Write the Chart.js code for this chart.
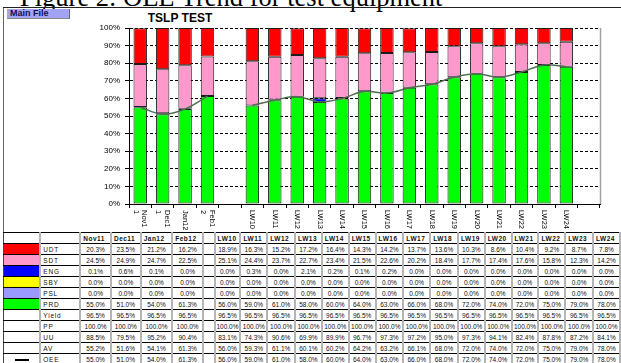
<!DOCTYPE html>
<html>
<head>
<meta charset="utf-8">
<script src="https://cdn.jsdelivr.net/npm/chart.js@4/dist/chart.umd.min.js"></script>
<style>
  body { margin: 0; width: 621px; height: 363px; overflow: hidden; background: #fff; position: relative; font-family: Arial, "Liberation Sans", sans-serif; }
  #caption { position: absolute; left: 20px; top: -16px; font: 26.5px/1 "Liberation Serif", "Times New Roman", serif; white-space: nowrap; color: #000; }
  #rule { position: absolute; left: 3px; top: 7px; width: 618px; height: 1px; background: #222; }
  #frame { position: absolute; left: 3px; top: 8px; width: 1px; height: 355px; background: #666; }
  #mainFile { position: absolute; left: 7px; top: 9px; width: 59px; height: 9px; padding-left: 3px; background: #a3a3f3; border-right: 1px solid #666; border-bottom: 1px solid #888; font: bold 9px/9px Arial, sans-serif; color: #101050; }
  #title { position: absolute; left: 130px; width: 100px; top: 11px; text-align: center; font: bold 12px Arial, sans-serif; }
  #chart { position: absolute; left: 0; top: 0; }
  #tbl { position: absolute; left: 3px; top: 232px; border-collapse: collapse; table-layout: fixed; }
  #tbl tr { height: 11px; }
  #tbl td { height: 9px; padding: 0; font-size: 6.5px; line-height: 9px; text-align: center; white-space: nowrap; overflow: hidden;
            border-top: 1px solid #000; border-bottom: 1px solid #000; border-left: 2px solid #b5b5b5; border-right: 2px solid #b5b5b5; color: #111; }
  #tbl td.key { border-left: 1px solid #444; border-right: 1px solid #000; }
  #tbl td.lab { text-align: left; padding-left: 2px; letter-spacing: 0.8px; border-right: 1px solid #000; }
  #tbl tr.head td { font-weight: bold; text-align: left; padding-left: 2px; letter-spacing: 0.5px; }
  .oeeKey { display: inline-block; width: 14px; height: 1.5px; background: #000; vertical-align: middle; }
</style>
</head>
<body>
<div id="caption">Figure 2: OEE Trend for test equipment</div>
<div id="rule"></div>
<div id="frame"></div>
<div id="mainFile">Main File</div>
<div id="title">TSLP TEST</div>
<canvas id="chart" width="621" height="232"></canvas>
<table id="tbl"></table>

<script>
// periodos (el hueco entre meses y semanas va como categoria vacia)
const categories = ["Nov11", "Dec11", "Jan12", "Feb12", "", "LW10", "LW11", "LW12", "LW13", "LW14", "LW15", "LW16",
  "LW17", "LW18", "LW19", "LW20", "LW21", "LW22", "LW23", "LW24", ""];
const tickLabels = [["Nov1", "1"], ["Dec1", "1"], "Jan12", ["Feb1", "2"], "", "LW10", "LW11", "LW12", "LW13", "LW14",
  "LW15", "LW16", "LW17", "LW18", "LW19", "LW20", "LW21", "LW22", "LW23", "LW24", ""];

// valores en %
const udt = [20.3, 23.5, 21.2, 16.2, null, 18.9, 16.3, 15.2, 17.2, 16.4, 14.3, 14.2, 13.7, 13.6, 10.3, 8.6, 10.4, 9.2, 8.7, 7.8, null];
const sdt = [24.5, 24.9, 24.7, 22.5, null, 25.1, 24.4, 23.7, 22.7, 23.4, 21.5, 22.6, 20.2, 18.4, 17.7, 17.4, 17.6, 15.8, 12.3, 14.2, null];
const eng = [0.1, 0.6, 0.1, 0.0, null, 0.0, 0.3, 0.0, 2.1, 0.2, 0.1, 0.2, 0.0, 0.0, 0.0, 0.0, 0.0, 0.0, 0.0, 0.0, null];
const sby = [0, 0, 0, 0, null, 0, 0, 0, 0, 0, 0, 0, 0, 0, 0, 0, 0, 0, 0, 0, null];
const psl = [0, 0, 0, 0, null, 0, 0, 0, 0, 0, 0, 0, 0, 0, 0, 0, 0, 0, 0, 0, null];
const prd = [55.0, 51.0, 54.0, 61.3, null, 56.0, 59.0, 61.0, 58.0, 60.0, 64.0, 63.0, 66.0, 68.0, 72.0, 74.0, 72.0, 75.0, 79.0, 78.0, null];
const yieldPct = [96.5, 96.5, 96.5, 96.5, null, 96.5, 96.5, 96.5, 96.5, 96.5, 96.5, 96.5, 96.5, 96.5, 96.5, 96.5, 96.5, 96.5, 96.5, 96.5, null];
const pp = [100, 100, 100, 100, null, 100, 100, 100, 100, 100, 100, 100, 100, 100, 100, 100, 100, 100, 100, 100, null];
const uu = [88.5, 79.5, 95.2, 90.4, null, 83.1, 74.3, 90.6, 69.9, 89.9, 96.7, 97.3, 97.2, 95.0, 97.3, 94.1, 82.4, 87.8, 87.2, 84.1, null];
const av = [55.2, 51.6, 54.1, 61.3, null, 56.0, 59.3, 61.1, 60.1, 60.2, 64.2, 63.2, 66.1, 68.0, 72.0, 74.0, 72.0, 75.0, 79.0, 78.0, null];
const oee = [55.0, 51.0, 54.0, 61.3, null, 56.0, 59.0, 61.0, 58.0, 60.0, 64.0, 63.0, 66.0, 68.0, 72.0, 74.0, 72.0, 75.0, 79.0, 78.0, null];

const colors = { UDT: "#ff0000", SDT: "#ff99cc", ENG: "#0000ff", SBY: "#ffff00", PSL: "#9999ff", PRD: "#00ff00" };

// las barras se apilan desde abajo: PRD primero
const barSets = [["PRD", prd], ["PSL", psl], ["SBY", sby], ["ENG", eng], ["SDT", sdt], ["UDT", udt]];
const datasets = barSets.map(([label, data]) => ({
  type: "bar", label: label, data: data,
  backgroundColor: colors[label], borderColor: "#1c1c1c", borderWidth: 1, borderSkipped: false,
  barPercentage: 0.6, categoryPercentage: 1, order: 1
}));
datasets.push({
  type: "line", label: "OEE", data: oee, borderColor: "#4e7050", borderWidth: 1.5,
  pointRadius: 0, tension: 0.35, spanGaps: false, order: 0
});

// etiquetas del eje x giradas hacia abajo como en Excel
const xLabels = {
  id: "xLabels",
  afterDraw(chart) {
    const sx = chart.scales.x;
    const ctx = chart.ctx;
    ctx.save();
    ctx.font = "7.5px Arial";
    ctx.fillStyle = "#000";
    ctx.textAlign = "left";
    ctx.textBaseline = "middle";
    tickLabels.forEach((lab, i) => {
      const lines = [].concat(lab);
      ctx.save();
      ctx.translate(sx.getPixelForValue(i), sx.top + 6);
      ctx.rotate(Math.PI / 2);
      lines.forEach((t, k) => ctx.fillText(t, 0, (k - (lines.length - 1) / 2) * 8.5));
      ctx.restore();
    });
    ctx.restore();
  }
};

const frameRight = {
  id: "frameRight",
  afterDraw(chart) {
    const { ctx, chartArea: a } = chart;
    ctx.save();
    ctx.strokeStyle = "#a0a0a0";
    ctx.lineWidth = 1.5;
    ctx.beginPath();
    ctx.moveTo(a.right + 0.5, a.top);
    ctx.lineTo(a.right + 0.5, a.bottom);
    ctx.stroke();
    ctx.restore();
  }
};

new Chart(document.querySelector("#chart"), {
  type: "bar",
  data: { labels: categories, datasets: datasets },
  options: {
    responsive: false,
    animation: false,
    devicePixelRatio: 1,
    layout: { padding: { top: 28, right: 21, left: 0, bottom: 0 } },
    plugins: { legend: { display: false }, title: { display: false }, tooltip: { enabled: false } },
    scales: {
      x: {
        stacked: true,
        offset: true,
        grid: { display: true, drawOnChartArea: false, drawTicks: true, tickLength: 4, color: "#000", offset: true },
        border: { color: "#000", width: 1 },
        ticks: { display: false },
        afterFit: (s) => { s.height = 28; }
      },
      y: {
        stacked: true,
        min: 0,
        max: 100,
        ticks: { stepSize: 10, callback: (v) => v + "%", font: { size: 8, family: "Arial" }, color: "#000", padding: 5 },
        grid: { color: "#000", tickLength: 4, tickColor: "#000" },
        border: { color: "#000", width: 1, dash: [3, 2] },
        afterFit: (s) => { s.width = 129; }
      }
    }
  },
  plugins: [xLabels, frameRight]
});

// tabla de datos debajo del grafico
const colWidths = [38, 41, 31, 30, 32, 31, 12, 26, 27, 28, 27, 27, 27, 28, 27, 28, 27, 27, 27, 27, 28, 27];
const periods = categories.slice(0, 20);
const rows = [
  ["UDT", udt], ["SDT", sdt], ["ENG", eng], ["SBY", sby], ["PSL", psl], ["PRD", prd],
  ["Yield", yieldPct], ["PP", pp], ["UU", uu], ["AV", av], ["OEE", oee]
];
const tbl = document.querySelector("#tbl");
let html = "<colgroup>" + colWidths.map((w) => `<col style="width:${w}px">`).join("") + "</colgroup>";
html += `<tr class="head"><td class="key"></td><td class="lab"></td>` + periods.map((p) => `<td>${p}</td>`).join("") + "</tr>";
rows.forEach(([name, vals]) => {
  let key = "";
  if (colors[name]) key = `style="background:${colors[name]}"`;
  const keyInner = name == "OEE" ? `<span class="oeeKey"></span>` : "";
  html += `<tr><td class="key" ${key}>${keyInner}</td><td class="lab">${name}</td>`;
  html += periods.map((p, i) => `<td>${vals[i] == null ? "" : vals[i].toFixed(1) + "%"}</td>`).join("");
  html += "</tr>";
});
tbl.innerHTML = html;
</script>
</body>
</html>
